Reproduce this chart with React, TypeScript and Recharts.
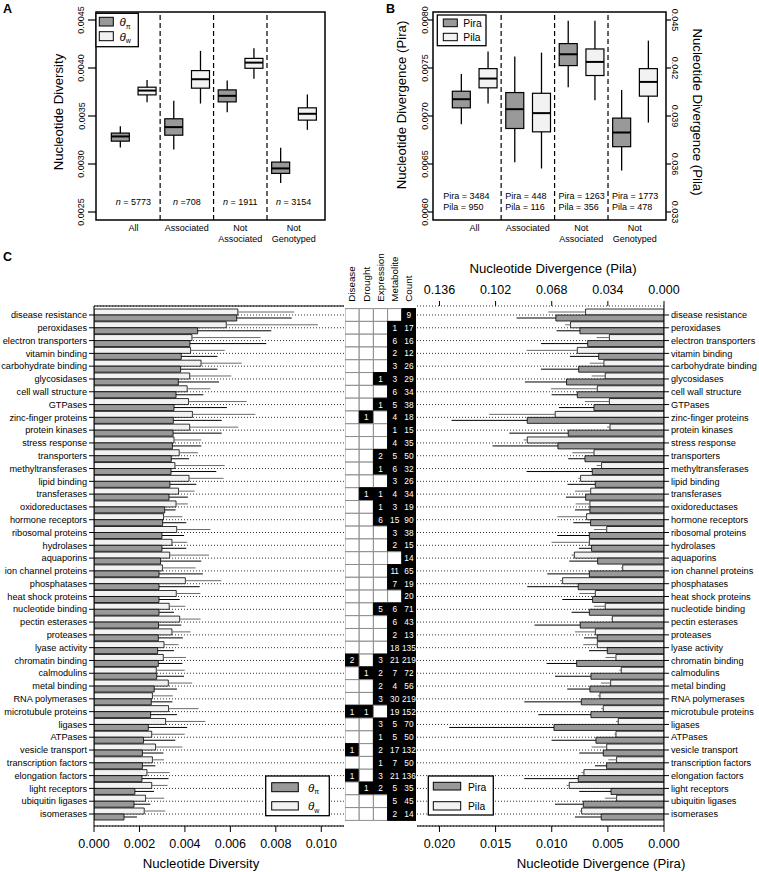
import React from 'react';
import {
  ComposedChart, Bar, XAxis, YAxis, CartesianGrid, ErrorBar, Cell, LabelList,
  ReferenceLine, ReferenceArea, ReferenceDot,
} from 'recharts';

const FONT = '"Liberation Sans", Arial, Helvetica, sans-serif';
const DARK = '#999999';
const LIGHT = '#f2f2f2';

// ---------- panels A and B ----------
const groups = ['All', 'Associated', 'Not\nAssociated', 'Not\nGenotyped'];
const diversityN = [' = 5773', ' =708', ' = 1911', ' = 3154'];

// [low whisker, q1, median, q3, high whisker]
const thetaPiBox = [
  [0.003173, 0.003238, 0.003287, 0.003322, 0.003394],
  [0.003152, 0.0033, 0.003384, 0.003471, 0.003658],
  [0.00354, 0.003647, 0.00371, 0.003772, 0.003869],
  [0.002802, 0.002902, 0.002954, 0.00302, 0.00317],
];
const thetaWBox = [
  [0.003644, 0.00372, 0.003765, 0.0038, 0.003876],
  [0.00363, 0.00379, 0.003883, 0.003973, 0.004178],
  [0.003887, 0.003997, 0.004056, 0.0041, 0.004205],
  [0.003356, 0.003457, 0.003523, 0.003585, 0.003724],
];
const diversityTicks = [0.0025, 0.003, 0.0035, 0.004, 0.0045];

const piraBox = [
  [0.006915, 0.007085, 0.007175, 0.007258, 0.007438],
  [0.006517, 0.00687, 0.007071, 0.007244, 0.007619],
  [0.0073, 0.007525, 0.007643, 0.007754, 0.007993],
  [0.006433, 0.00668, 0.006828, 0.006978, 0.007272],
];
const pilaBox = [
  [0.03978, 0.04076, 0.04134, 0.04196, 0.04303],
  [0.03572, 0.03801, 0.03918, 0.04042, 0.04296],
  [0.03999, 0.04153, 0.04238, 0.04319, 0.04496],
  [0.03859, 0.04024, 0.04113, 0.04196, 0.04371],
];
const piraN = [3484, 448, 1263, 1773];
const pilaN = [950, 116, 356, 478];
const piraTicks = [0.006, 0.0065, 0.007, 0.0075, 0.008];
const pilaTicks = [0.033, 0.036, 0.039, 0.042, 0.045];

// ---------- panel C ----------
const categories = [
  'disease resistance', 'peroxidases', 'electron transporters', 'vitamin binding', 'carbohydrate binding',
  'glycosidases', 'cell wall structure', 'GTPases', 'zinc-finger proteins', 'protein kinases',
  'stress response', 'transporters', 'methyltransferases', 'lipid binding', 'transferases',
  'oxidoreductases', 'hormone receptors', 'ribosomal proteins', 'hydrolases', 'aquaporins',
  'ion channel proteins', 'phosphatases', 'heat shock proteins', 'nucleotide binding', 'pectin esterases',
  'proteases', 'lyase activity', 'chromatin binding', 'calmodulins', 'metal binding',
  'RNA polymerases', 'microtubule proteins', 'ligases', 'ATPases', 'vesicle transport',
  'transcription factors', 'elongation factors', 'light receptors', 'ubiquitin ligases', 'isomerases',
];
const thetaW = [
  0.00633, 0.00582, 0.00431, 0.00425, 0.00471, 0.00421, 0.0041, 0.00416, 0.00433, 0.00421,
  0.00352, 0.00375, 0.00356, 0.00418, 0.00372, 0.00361, 0.00306, 0.00364, 0.00343, 0.00333,
  0.00301, 0.00402, 0.00362, 0.00331, 0.00377, 0.00343, 0.00308, 0.00305, 0.00274, 0.00327,
  0.00257, 0.00328, 0.00315, 0.00254, 0.00271, 0.00257, 0.00233, 0.00254, 0.00227, 0.00221,
];
const thetaPi = [
  0.00628, 0.00456, 0.00422, 0.00384, 0.00381, 0.00371, 0.00361, 0.00352, 0.00349, 0.00348,
  0.00345, 0.0034, 0.00339, 0.00334, 0.0033, 0.00311, 0.00302, 0.00299, 0.00299, 0.00293,
  0.00286, 0.00286, 0.00286, 0.00286, 0.00284, 0.00283, 0.0028, 0.00283, 0.00276, 0.00265,
  0.00252, 0.00249, 0.00239, 0.00218, 0.00213, 0.00213, 0.00211, 0.0018, 0.00176, 0.00132,
];
const thetaWUpper = [
  0.00881, 0.00985, 0.00733, 0.00575, 0.0065, 0.00604, 0.00512, 0.00672, 0.0071, 0.00635,
  0.00472, 0.00457, 0.00575, 0.0057, 0.00443, 0.00413, 0.00389, 0.00512, 0.0041, 0.00506,
  0.00447, 0.0056, 0.00468, 0.00402, 0.00469, 0.00425, 0.00372, 0.00405, 0.00399, 0.00432,
  0.00347, 0.0046, 0.0049, 0.00399, 0.00389, 0.00308, 0.00333, 0.00324, 0.00309, 0.00314,
];
const thetaPiUpper = [
  0.0087, 0.0078, 0.00758, 0.00543, 0.00543, 0.0055, 0.00481, 0.00585, 0.00562, 0.00562,
  0.00472, 0.00418, 0.00538, 0.0045, 0.00413, 0.00359, 0.00406, 0.00396, 0.00406, 0.00472,
  0.00479, 0.00465, 0.00377, 0.00352, 0.00384, 0.00391, 0.00352, 0.00389, 0.00396, 0.00365,
  0.00345, 0.00365, 0.0041, 0.00358, 0.00305, 0.0027, 0.00328, 0.00264, 0.00248, 0.00189,
];
const pila = [
  0.0475, 0.0566, 0.0331, 0.0525, 0.0364, 0.0356, 0.0404, 0.0331, 0.0659, 0.0327,
  0.0828, 0.0424, 0.0378, 0.0505, 0.0444, 0.0449, 0.0469, 0.0347, 0.0452, 0.0543,
  0.025, 0.0614, 0.0416, 0.0356, 0.0313, 0.0416, 0.0404, 0.0291, 0.0259, 0.0323,
  0.0388, 0.0368, 0.0277, 0.0291, 0.0347, 0.0287, 0.0485, 0.0574, 0.0287, 0.0499,
];
const pilaUpper = [
  0.0701, 0.0598, 0.0408, 0.0832, 0.0449, 0.0438, 0.0685, 0.0479, 0.1059, 0.0345,
  0.085, 0.0556, 0.0408, 0.052, 0.0539, 0.0535, 0.0646, 0.0424, 0.0681, 0.056,
  0.026, 0.063, 0.0513, 0.0424, 0.032, 0.0539, 0.0489, 0.0354, 0.027, 0.0382,
  0.04, 0.038, 0.029, 0.03, 0.0438, 0.0337, 0.05, 0.059, 0.0358, 0.051,
];
const pira = [
  0.00963, 0.00749, 0.0068, 0.00582, 0.0076, 0.00868, 0.00772, 0.00624, 0.01218, 0.00853,
  0.00945, 0.00704, 0.00639, 0.00612, 0.00698, 0.0066, 0.00654, 0.00665, 0.00645, 0.00591,
  0.00665, 0.00764, 0.00636, 0.00665, 0.00746, 0.00594, 0.00505, 0.00778, 0.00651, 0.0066,
  0.00737, 0.00651, 0.0098, 0.00606, 0.00541, 0.00511, 0.00764, 0.00472, 0.00719, 0.00559,
];
const piraUpper = [
  0.01313, 0.00957, 0.01096, 0.00838, 0.01096, 0.01239, 0.01001, 0.00936, 0.01892, 0.01378,
  0.01527, 0.00853, 0.01224, 0.00859, 0.00873, 0.00793, 0.00808, 0.00951, 0.00758, 0.00844,
  0.0104, 0.01218, 0.00906, 0.00823, 0.01153, 0.00713, 0.00668, 0.01046, 0.00971, 0.00862,
  0.01245, 0.0112, 0.01913, 0.01001, 0.00755, 0.00615, 0.01245, 0.00755, 0.00971, 0.00793,
];

const _ = null;
const disease = [
  _, _, _, _, _, _, _, _, _, _,
  _, _, _, _, _, _, _, _, _, _,
  _, _, _, _, _, _, _, 2, _, _,
  _, 1, _, _, 1, _, 1, _, _, _,
];
const drought = [
  _, _, _, _, _, _, _, _, 1, _,
  _, _, _, _, 1, _, _, _, _, _,
  _, _, _, _, _, _, _, _, 1, _,
  _, 1, _, _, _, _, _, 1, _, _,
];
const expression = [
  _, _, _, _, _, 1, _, 1, _, _,
  _, 2, 1, _, 1, 1, 6, _, _, _,
  _, _, _, 5, _, _, _, 3, 2, 2,
  3, _, 3, 1, 2, 1, 3, 2, _, _,
];
const metabolite = [
  _, 1, 6, 2, 3, 3, 6, 5, 4, 1,
  4, 5, 6, 3, 4, 3, 15, 3, 2, _,
  11, 7, _, 6, 6, 2, 18, 21, 7, 4,
  30, 19, 5, 5, 17, 7, 21, 5, 5, 2,
];
const geneCount = [
  9, 17, 16, 12, 26, 29, 34, 38, 18, 15,
  35, 50, 32, 26, 34, 19, 90, 38, 15, 14,
  65, 19, 20, 71, 43, 13, 135, 219, 72, 56,
  219, 152, 70, 50, 132, 50, 136, 35, 45, 14,
];
const gridColumns = ['Disease', 'Drought', 'Expression', 'Metabolite', 'Count'];
const gridFields = ['disease', 'drought', 'expression', 'metabolite', 'count'];

const diversityTicksC = [0, 0.002, 0.004, 0.006, 0.008, 0.01];
const piraTicksC = [0, 0.005, 0.01, 0.015, 0.02];
const pilaTicksC = [0, 0.034, 0.068, 0.102, 0.136];

// ---------- tables ----------
const boxTable = (a: number[][], b: number[][]) =>
  a.map((s, i) => ({
    group: groups[i],
    aPos: 2 * i + 1,
    bPos: 2 * i + 2,
    aBox: [s[1], s[3]],
    bBox: [b[i][1], b[i][3]],
    aStats: s,
    bStats: b[i],
  }));
const aData = boxTable(thetaPiBox, thetaWBox);
const bData = boxTable(piraBox, pilaBox);
const groupTicks = groups.map((_g, i) => 2 * i + 1.5);
const dividers = groups.slice(1).map((_g, i) => 2 * i + 2.5);

const cData = categories.map((cat, i) => ({
  cat,
  thetaW: thetaW[i],
  thetaPi: thetaPi[i],
  thetaWErr: [0, thetaWUpper[i] - thetaW[i]],
  thetaPiErr: [0, thetaPiUpper[i] - thetaPi[i]],
  pila: pila[i],
  pira: pira[i],
  pilaErr: [0, pilaUpper[i] - pila[i]],
  piraErr: [0, piraUpper[i] - pira[i]],
  disease: disease[i],
  drought: drought[i],
  expression: expression[i],
  metabolite: metabolite[i],
  count: geneCount[i],
}));
const cellWidth = gridFields.map(() => (): number => 1);

const A_X = [0.1, 8.67];
const A_Y = [0.0024167, 0.0045833];
const B_X = [-0.05, 8.67];
const B_Y = [0.0059167, 0.0080833];
const B_Y2 = [0.0325, 0.0455];
const C_TOP = 255;
const C_H = 617;
const CAT_PAD = { top: 2.6, bottom: 5.6 };

// ---------- pieces ----------
function BoxShape(props: any) {
  const { x, y, width, height, stats, color } = props;
  if (!stats || !Number.isFinite(y) || !Number.isFinite(height)) return <g />;
  const [lo, q1, med, q3, hi] = stats;
  const top = Math.min(y, y + height);
  const h = Math.abs(height);
  const k = h / (q3 - q1);
  const py = (v: number) => top + (q3 - v) * k;
  const cx = x + width / 2;
  return (
    <g>
      <line x1={cx} x2={cx} y1={py(hi)} y2={py(lo)} stroke="#000" strokeWidth={1.3} />
      <rect x={x} y={top} width={width} height={h} fill={color} stroke="#000" strokeWidth={1.2} />
      <line x1={x} x2={x + width} y1={py(med)} y2={py(med)} stroke="#000" strokeWidth={2} />
    </g>
  );
}

const GroupTick = (p: any) => {
  const lines = groups[p.index].split('\n');
  return (
    <text x={p.x} y={p.y} textAnchor="middle" fontSize={9} fill="#000">
      {lines.map((l, k) => (
        <tspan key={k} x={p.x} dy={k === 0 ? 11.3 : 10.8}>{l}</tspan>
      ))}
    </text>
  );
};

const RotTick = (p: any) => {
  const bx = p.x + p.shift;
  return (
    <text x={bx} y={p.y} transform={`rotate(${p.rot} ${bx} ${p.y})`} textAnchor="middle" fontSize={9} fill="#000">
      {Number(p.payload.value).toFixed(p.digits)}
    </text>
  );
};

const CatTick = (p: any) => (
  <text x={p.x} y={p.y} dy={3.2} textAnchor={p.anchor} fontSize={9.2} fill="#000">
    {p.payload.value}
  </text>
);

const HEADER_H = 61;
const HeaderTick = (p: any) => {
  const x = p.x + 3.4;
  const y = HEADER_H - 4.3;
  return (
    <text x={x} y={y} transform={`rotate(-90 ${x} ${y})`} fontSize={9.8} fill="#000">
      {gridColumns[p.index]}
    </text>
  );
};

const CellText = (p: any) => {
  if (p.value == null) return null;
  const vb = p.viewBox ?? p;
  return (
    <text x={vb.x + vb.width / 2} y={vb.y + vb.height / 2 + 3} textAnchor="middle" fontSize={8.3} fill="#fff">
      {p.value}
    </text>
  );
};

const nLabel = (rest: string) => (p: any) => {
  const vb = p.viewBox ?? p;
  const x = vb.x + (vb.width || 0) / 2;
  const y = vb.y + (vb.height || 0) / 2;
  return (
    <text x={x} y={y + 5} textAnchor="middle" fontSize={9} fill="#000">
      <tspan fontStyle="italic">n</tspan>{rest}
    </text>
  );
};

const piraPilaLabel = (i: number) => (p: any) => {
  const vb = p.viewBox ?? p;
  const x = vb.x + (vb.width || 0) / 2;
  const y = vb.y + (vb.height || 0) / 2;
  return (
    <text x={x} y={y} fontSize={9} fill="#000">
      <tspan x={x} dy={1}>{`Pira = ${piraN[i]}`}</tspan>
      <tspan x={x} dy={11.5}>{`Pila = ${pilaN[i]}`}</tspan>
    </text>
  );
};

function PanelA() {
  return (
    <div style={{ position: 'absolute', left: 0, top: 0 }}>
      <ComposedChart width={380} height={250} data={aData} margin={{ top: 12, right: 55, bottom: 0, left: 56 }}>
        <XAxis xAxisId="a" dataKey="aPos" type="number" domain={A_X} allowDataOverflow ticks={groupTicks} interval={0}
          tick={<GroupTick />} tickLine={false} axisLine={false} tickSize={0} tickMargin={0} height={30} />
        <XAxis xAxisId="b" dataKey="bPos" type="number" domain={A_X} allowDataOverflow hide />
        <YAxis domain={A_Y} allowDataOverflow ticks={diversityTicks} interval={0} width={40} axisLine={false}
          tickSize={8} tickLine={{ stroke: '#000', strokeWidth: 1.2 }} tick={<RotTick rot={-90} shift={-1.5} digits={4} />} />
        <ReferenceArea xAxisId="a" x1={A_X[0]} x2={A_X[1]} y1={A_Y[0]} y2={A_Y[1]} fill="none" fillOpacity={0}
          stroke="#000" strokeWidth={1.5} strokeOpacity={1} ifOverflow="visible" />
        {dividers.map((d) => (
          <ReferenceLine key={d} xAxisId="a" x={d} stroke="#000" strokeDasharray="5 3" strokeWidth={1.2} />
        ))}
        <Bar xAxisId="a" dataKey="aBox" barSize={18} isAnimationActive={false}
          shape={(p: any) => <BoxShape {...p} stats={p.payload && p.payload.aStats} color={DARK} />} />
        <Bar xAxisId="b" dataKey="bBox" barSize={18} isAnimationActive={false}
          shape={(p: any) => <BoxShape {...p} stats={p.payload && p.payload.bStats} color={LIGHT} />} />
        {groups.map((g, i) => (
          <ReferenceDot key={g} xAxisId="a" x={2 * i + 1.5} y={0.00262} r={0} fill="none" stroke="none"
            ifOverflow="visible" label={nLabel(diversityN[i])} />
        ))}
      </ComposedChart>
    </div>
  );
}

function PanelB() {
  return (
    <div style={{ position: 'absolute', left: 380, top: 0 }}>
      <ComposedChart width={379} height={250} data={bData} margin={{ top: 12, right: 53, bottom: 0, left: 13 }}>
        <XAxis xAxisId="a" dataKey="aPos" type="number" domain={B_X} allowDataOverflow ticks={groupTicks} interval={0}
          tick={<GroupTick />} tickLine={false} axisLine={false} tickSize={0} tickMargin={0} height={30} />
        <XAxis xAxisId="b" dataKey="bPos" type="number" domain={B_X} allowDataOverflow hide />
        <YAxis yAxisId="pira" domain={B_Y} allowDataOverflow ticks={piraTicks} interval={0} width={40} axisLine={false}
          tickSize={5} tickLine={{ stroke: '#000', strokeWidth: 1.2 }} tick={<RotTick rot={-90} shift={2} digits={4} />} />
        <YAxis yAxisId="pila" orientation="right" domain={B_Y2} allowDataOverflow ticks={pilaTicks} interval={0} width={40}
          axisLine={false} tickSize={5} tickLine={{ stroke: '#000', strokeWidth: 1.2 }}
          tick={<RotTick rot={90} shift={-1.3} digits={3} />} />
        <ReferenceArea xAxisId="a" yAxisId="pira" x1={B_X[0]} x2={B_X[1]} y1={B_Y[0]} y2={B_Y[1]} fill="none"
          fillOpacity={0} stroke="#000" strokeWidth={1.5} strokeOpacity={1} ifOverflow="visible" />
        {dividers.map((d) => (
          <ReferenceLine key={d} xAxisId="a" yAxisId="pira" x={d} stroke="#000" strokeDasharray="5 3" strokeWidth={1.2} />
        ))}
        <Bar xAxisId="a" yAxisId="pira" dataKey="aBox" barSize={18} isAnimationActive={false}
          shape={(p: any) => <BoxShape {...p} stats={p.payload && p.payload.aStats} color={DARK} />} />
        <Bar xAxisId="b" yAxisId="pila" dataKey="bBox" barSize={18} isAnimationActive={false}
          shape={(p: any) => <BoxShape {...p} stats={p.payload && p.payload.bStats} color={LIGHT} />} />
        {groups.map((g, i) => (
          <ReferenceDot key={g} xAxisId="a" yAxisId="pira" x={i === 0 ? 0.33 : 2 * i + 0.65} y={0.00615} r={0}
            fill="none" stroke="none" ifOverflow="visible" label={piraPilaLabel(i)} />
        ))}
      </ComposedChart>
    </div>
  );
}

function DiversityBars() {
  return (
    <div style={{ position: 'absolute', left: 0, top: C_TOP }}>
      <ComposedChart layout="vertical" width={345} height={C_H} data={cData}
        margin={{ top: 51, right: 1, bottom: 6, left: 0 }} barCategoryGap={0.4} barGap={0}>
        <CartesianGrid horizontal vertical={false} stroke="#333" strokeDasharray="1 2" />
        <XAxis type="number" domain={[0, 0.011]} allowDataOverflow ticks={diversityTicksC} interval={0}
          tickFormatter={(v: number) => v.toFixed(3)} height={40} tickSize={6} tickMargin={7}
          tick={{ fontSize: 12.5, fill: '#000' }} stroke="#000" />
        <YAxis type="category" dataKey="cat" width={94} padding={CAT_PAD} interval={0} tickSize={5}
          tick={<CatTick anchor="end" />} stroke="#000" />
        <Bar dataKey="thetaW" fill={LIGHT} stroke="#000" strokeWidth={0.8} isAnimationActive={false}>
          <ErrorBar dataKey="thetaWErr" direction="x" width={0} stroke="#6b6b6b" strokeWidth={1} isAnimationActive={false} />
        </Bar>
        <Bar dataKey="thetaPi" fill={DARK} stroke="#000" strokeWidth={0.8} isAnimationActive={false}>
          <ErrorBar dataKey="thetaPiErr" direction="x" width={0} stroke="#000" strokeWidth={1} isAnimationActive={false} />
        </Bar>
      </ComposedChart>
    </div>
  );
}

function AssociationGrid() {
  return (
    <div style={{ position: 'absolute', left: 345, top: C_TOP - (HEADER_H - 51) }}>
      <ComposedChart layout="vertical" width={71} height={C_H + HEADER_H - 51} data={cData}
        margin={{ top: 0, right: 0, bottom: 46, left: 0 }} barCategoryGap={0} barGap={0}>
        <XAxis type="number" orientation="top" domain={[0, 5]} allowDataOverflow ticks={[0.5, 1.5, 2.5, 3.5, 4.5]}
          interval={0} height={HEADER_H} tick={<HeaderTick />} tickLine={false} axisLine={false} />
        <YAxis type="category" dataKey="cat" hide padding={CAT_PAD} />
        {gridFields.map((f, k) => (
          <Bar key={f} dataKey={cellWidth[k]} stackId="grid" barSize={12.79} isAnimationActive={false}>
            {cData.map((r: any, i) => (
              <Cell key={i} fill={r[f] != null ? '#000' : '#fff'} stroke={r[f] != null ? '#000' : '#8c8c8c'} strokeWidth={1} />
            ))}
            <LabelList dataKey={f} content={CellText} />
          </Bar>
        ))}
      </ComposedChart>
    </div>
  );
}

function DivergenceBars() {
  return (
    <div style={{ position: 'absolute', left: 417, top: C_TOP }}>
      <ComposedChart layout="vertical" width={342} height={C_H} data={cData}
        margin={{ top: 0, right: 0, bottom: 6, left: 0 }} barCategoryGap={0.4} barGap={0}>
        <CartesianGrid horizontal vertical={false} stroke="#333" strokeDasharray="1 2" />
        <XAxis type="number" reversed domain={[0, 0.022]} allowDataOverflow ticks={piraTicksC} interval={0}
          tickFormatter={(v: number) => v.toFixed(3)} height={40} tickSize={6} tickMargin={7}
          tick={{ fontSize: 12.5, fill: '#000' }} stroke="#000" />
        <XAxis xAxisId="pila" orientation="top" type="number" reversed domain={[0, 0.1496]} allowDataOverflow
          ticks={pilaTicksC} interval={0} tickFormatter={(v: number) => v.toFixed(3)} height={51} tickSize={5}
          tickMargin={7} axisLine={false} tick={{ fontSize: 12.5, fill: '#000' }} stroke="#000" />
        <YAxis type="category" dataKey="cat" orientation="right" width={95} padding={CAT_PAD} interval={0} tickSize={5}
          tick={<CatTick anchor="start" />} stroke="#000" />
        <Bar xAxisId="pila" dataKey="pila" fill={LIGHT} stroke="#000" strokeWidth={0.8} isAnimationActive={false}>
          <ErrorBar dataKey="pilaErr" direction="x" width={0} stroke="#6b6b6b" strokeWidth={1} isAnimationActive={false} />
        </Bar>
        <Bar dataKey="pira" fill={DARK} stroke="#000" strokeWidth={0.8} isAnimationActive={false}>
          <ErrorBar dataKey="piraErr" direction="x" width={0} stroke="#000" strokeWidth={1} isAnimationActive={false} />
        </Bar>
      </ComposedChart>
    </div>
  );
}

const Theta = ({ x, y, sub }: { x: number; y: number; sub: string }) => (
  <text x={x} y={y} fontSize={11.5} fill="#000">
    <tspan fontStyle="italic">θ</tspan>
    <tspan fontSize={7} dy={2.5}>{sub}</tspan>
  </text>
);

function Overlay() {
  return (
    <svg width={759} height={872} style={{ position: 'absolute', left: 0, top: 0, pointerEvents: 'none' }}>
      <g fontWeight="bold" fontSize={12.5} fill="#000">
        <text x={3} y={13}>A</text>
        <text x={386} y={13}>B</text>
        <text x={3} y={261}>C</text>
      </g>
      <g fontSize={13.2} fill="#000">
        <text x={63} y={112} textAnchor="middle" transform="rotate(-90 63 112)">Nucleotide Diversity</text>
        <text x={406} y={105} textAnchor="middle" transform="rotate(-90 406 105)">Nucleotide Divergence (Pira)</text>
        <text x={693} y={112} textAnchor="middle" transform="rotate(90 693 112)">Nucleotide Divergence (Pila)</text>
        <text x={553} y={272.5} textAnchor="middle">Nucleotide Divergence (Pila)</text>
        <text x={201} y={867.5} textAnchor="middle">Nucleotide Diversity</text>
        <text x={601} y={867.5} textAnchor="middle">Nucleotide Divergence (Pira)</text>
      </g>
      {/* top edge of the left bar panel */}
      <line x1={94} x2={344} y1={306} y2={306} stroke="#000" strokeWidth={1} />
      {/* legend A */}
      <rect x={96} y={13.3} width={42.3} height={33.4} fill="#fff" stroke="#000" strokeWidth={1.3} />
      <rect x={99.3} y={17.3} width={14} height={8.7} fill={DARK} stroke="#000" strokeWidth={1} />
      <rect x={99.3} y={31.7} width={14} height={9} fill={LIGHT} stroke="#000" strokeWidth={1} />
      <Theta x={119.5} y={26.3} sub="π" />
      <Theta x={119.5} y={40.8} sub="w" />
      {/* legend B */}
      <rect x={437.3} y={15} width={48.7} height={30.7} fill="#fff" stroke="#000" strokeWidth={1.3} />
      <rect x={443.3} y={19} width={14} height={7.7} fill={DARK} stroke="#000" strokeWidth={1} />
      <rect x={443.3} y={33.3} width={14} height={7.4} fill={LIGHT} stroke="#000" strokeWidth={1} />
      <text x={463.3} y={26.5} fontSize={10.3} fill="#000">Pira</text>
      <text x={463.3} y={40.7} fontSize={10.3} fill="#000">Pila</text>
      {/* legend C left */}
      <rect x={265.7} y={776} width={63.6} height={39.7} fill="#fff" stroke="#000" strokeWidth={1.3} />
      <rect x={271.7} y={782.7} width={26.6} height={9} fill={DARK} stroke="#000" strokeWidth={1} />
      <rect x={271.7} y={801.7} width={26.6} height={8.3} fill={LIGHT} stroke="#000" strokeWidth={1} />
      <Theta x={308} y={791.5} sub="π" />
      <Theta x={308} y={810.3} sub="w" />
      {/* legend C right */}
      <rect x={428.3} y={776} width={65} height={39} fill="#fff" stroke="#000" strokeWidth={1.3} />
      <rect x={433.3} y={782.3} width={27.4} height={7.7} fill={DARK} stroke="#000" strokeWidth={1} />
      <rect x={433.3} y={801.7} width={27.4} height={8.3} fill={LIGHT} stroke="#000" strokeWidth={1} />
      <text x={468} y={790.5} fontSize={10.3} fill="#000">Pira</text>
      <text x={468} y={809.8} fontSize={10.3} fill="#000">Pila</text>
    </svg>
  );
}

export default function App() {
  return (
    <div style={{ position: 'absolute', left: 0, top: 0, width: 759, height: 872, background: '#fff', fontFamily: FONT, overflow: 'hidden' }}>
      <PanelA />
      <PanelB />
      <DiversityBars />
      <AssociationGrid />
      <DivergenceBars />
      <Overlay />
    </div>
  );
}
